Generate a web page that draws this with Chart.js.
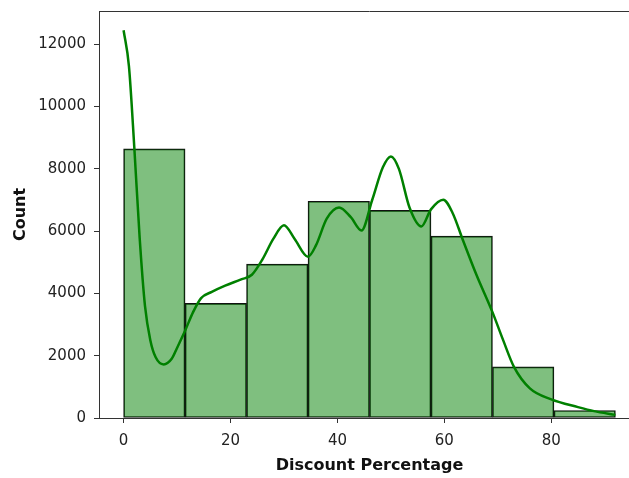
<!DOCTYPE html>
<html>
<head>
<meta charset="utf-8">
<script src="https://cdn.jsdelivr.net/npm/chart.js@4.4.0/dist/chart.umd.min.js"></script>
<style>
  html, body { margin: 0; padding: 0; background: #fff; overflow: hidden; }
  #wrap { width: 645px; height: 478px; }
</style>
</head>
<body>
<div id="wrap"><canvas id="chart"></canvas></div>
<script>
// histogram bins (discount %)
const binEdges = [0, 11.5, 23, 34.5, 46, 57.5, 69, 80.5, 92];
const binCounts = [8640, 3680, 4940, 6960, 6670, 5840, 1640, 240];

// kde curve
const kdeX = [0, 1, 2, 3, 4, 5, 6, 7.5, 9, 10, 11.5, 13, 14.5, 16.5, 19, 22, 24, 26, 28, 30, 32, 34.5, 36, 38, 40.3, 42.5, 44.5, 46.5, 48.5, 50, 51.5, 53.5, 55.7, 57.5, 59.8, 61.5, 63.5, 66, 69, 71, 73, 76, 80, 85, 88, 92];
const kdeY = [12450, 11300, 8700, 5800, 3600, 2500, 1950, 1720, 1900, 2250, 2800, 3400, 3850, 4050, 4250, 4450, 4600, 5100, 5750, 6190, 5750, 5180, 5550, 6400, 6760, 6450, 6020, 7000, 8050, 8400, 8000, 6750, 6150, 6700, 7010, 6600, 5700, 4600, 3400, 2500, 1650, 950, 600, 350, 220, 100];

const xTicks = [0, 20, 40, 60, 80];
const yTicks = [0, 2000, 4000, 6000, 8000, 10000, 12000];

const barData = binCounts.map((c, i) => ({ x: (binEdges[i] + binEdges[i + 1]) / 2, y: c }));
const kdeData = kdeX.map((x, i) => ({ x: x, y: kdeY[i] }));

const tickFont = { family: 'DejaVu Sans', size: 15 };
const titleFont = { family: 'DejaVu Sans', size: 16, weight: 'bold' };

// top + right spines
const spines = {
  id: 'spines',
  afterDraw(chart) {
    const a = chart.chartArea;
    const ctx = chart.ctx;
    ctx.save();
    ctx.strokeStyle = '#333';
    ctx.lineWidth = 1;
    ctx.beginPath();
    ctx.moveTo(a.left, a.top + 0.5);
    ctx.lineTo(a.right, a.top + 0.5);
    ctx.lineTo(a.right, a.bottom);
    ctx.stroke();
    ctx.restore();
  }
};

new Chart(document.getElementById('chart'), {
  type: 'bar',
  data: {
    datasets: [
      {
        type: 'line',
        data: kdeData,
        borderColor: 'rgb(0,128,0)',
        borderWidth: 2.5,
        pointRadius: 0,
        cubicInterpolationMode: 'monotone',
        fill: false,
        order: 0
      },
      {
        type: 'bar',
        data: barData,
        backgroundColor: 'rgba(0,128,0,0.5)',
        borderColor: '#111',
        borderWidth: 1,
        borderSkipped: false,
        barPercentage: 1,
        categoryPercentage: 1,
        order: 1
      }
    ]
  },
  options: {
    responsive: true,
    maintainAspectRatio: false,
    animation: false,
    layout: { padding: { left: 0, top: 11, right: 5, bottom: 0 } },
    plugins: { legend: { display: false }, tooltip: { enabled: false } },
    scales: {
      x: {
        type: 'linear',
        min: -4.6,
        max: 96.6,
        offset: false,
        afterFit: s => { s.height = 60; },
        afterBuildTicks: s => { s.ticks = xTicks.map(v => ({ value: v })); },
        grid: { display: true, offset: false, drawOnChartArea: false, drawTicks: true, tickLength: 5, color: '#333' },
        border: { display: true, color: '#333', width: 1 },
        ticks: { font: tickFont, color: '#222', padding: 9, maxRotation: 0, callback: v => String(v) },
        title: { display: true, text: 'Discount Percentage', font: titleFont, color: '#111', padding: { top: 0, bottom: 3 } }
      },
      y: {
        type: 'linear',
        min: 0,
        max: 13070,
        afterFit: s => { s.width = 99; s.paddingTop = 0; s.paddingBottom = 0; },
        afterBuildTicks: s => { s.ticks = yTicks.map(v => ({ value: v })); },
        grid: { display: true, drawOnChartArea: false, drawTicks: true, tickLength: 5, color: '#333' },
        border: { display: true, color: '#333', width: 1 },
        ticks: { font: tickFont, color: '#222', padding: 8, callback: v => String(v) },
        title: { display: true, text: 'Count', font: titleFont, color: '#111', padding: { top: 11, bottom: 0 } }
      }
    }
  },
  plugins: [spines]
});
</script>
</body>
</html>
